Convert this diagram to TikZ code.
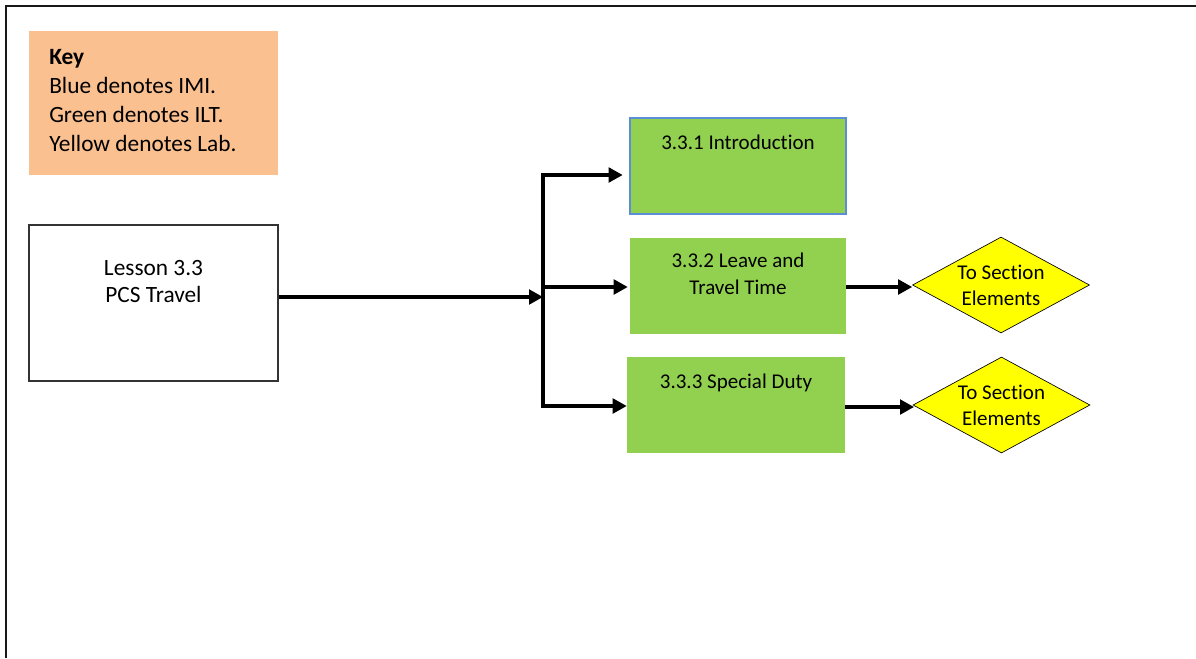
\documentclass[tikz,border=0pt]{standalone}
\usepackage{fontspec}
\setmainfont{Carlito}[Ligatures={NoCommon}]
\usetikzlibrary{arrows.meta,shapes.geometric}
\definecolor{keyfill}{HTML}{FAC090}
\definecolor{ilt}{HTML}{92D050}
\definecolor{lab}{HTML}{FFFF00}
\definecolor{imiedge}{HTML}{5B8ED6}
\tikzset{
  frameline/.style={line width=2pt, black!90},
  keybox/.style={rectangle, fill=keyfill, inner sep=0pt, minimum width=186.75pt, minimum height=108pt},
  lessonbox/.style={rectangle, draw=black!80, line width=0.8pt, fill=white, inner sep=0pt, minimum width=186.75pt, minimum height=117pt},
  iltbox/.style={rectangle, fill=ilt, inner sep=0pt, minimum width=162pt, minimum height=72pt},
  labdiamond/.style={diamond, aspect=1.84, draw=black, line width=0.5pt, fill=lab, inner sep=0pt, minimum width=132.75pt, minimum height=72pt, align=center, font=\fontsize{15.75}{19.3}\selectfont},
  bigtext/.style={inner sep=0pt, font=\fontsize{17.5}{21.75}\selectfont},
  smalltext/.style={inner sep=0pt, font=\fontsize{15.75}{20.25}\selectfont},
  link/.style={line width=2.3pt, black},
  flow/.style={link, -{Triangle[length=10.5pt, width=11pt]}}
}
\begin{document}
\begin{tikzpicture}[x=0.75pt, y=-0.75pt]
\useasboundingbox (0,0) rectangle (1196,658);

% page frame (top and left edges)
\draw[frameline] (6,658) -- (6,6) -- (1196,6);

% key
\node[keybox] (key) at (153.5,103) {};
\node[bigtext, anchor=north west, align=left] (keytext) at (49,49)
  {\textbf{Key}\\Blue denotes IMI.\\Green denotes ILT.\\Yellow denotes Lab.};

% lesson
\node[lessonbox] (lesson) at (153.5,303) {};
\node[bigtext, align=center, font=\fontsize{17.5}{20.25}\selectfont] (lessontext) at (153.5,282) {Lesson 3.3\\PCS Travel};

% topics
\node[iltbox, draw=imiedge, line width=1pt] (intro) at (738,166) {};
\node[smalltext, anchor=base] (introtext) at (738,149) {3.3.1 Introduction};

\node[iltbox] (leave) at (738,286) {};
\node[smalltext, align=center] (leavetext) at (738,274) {3.3.2 Leave and\\Travel Time};

\node[iltbox, minimum width=163.5pt] (special) at (736,405) {};
\node[smalltext, anchor=base] (specialtext) at (736,388) {3.3.3 Special Duty};

% section links
\node[labdiamond] (secA) at (1001,285) {To Section\\Elements};
\node[labdiamond] (secB) at (1001.5,405) {To Section\\Elements};

% branching bus
\coordinate (busin) at (543,297);
\coordinate (bustop) at (543,175);
\coordinate (busmid) at (543,287);
\coordinate (busbot) at (543,406);

\draw[flow] (lesson.east |- busin) -- (busin);
\draw[link, line cap=rect] (bustop) -- (busbot);
\draw[flow, shorten >=5pt] (bustop) -- (intro.west |- bustop);
\draw[flow, shorten >=1.5pt] (busmid) -- (leave.west |- busmid);
\draw[flow] (busbot) -- (special.west |- busbot);

\draw[flow] (leave.east |- 0,287) -- (secA.west |- 0,287);
\draw[flow] (special.east |- 0,407) -- ([xshift=1pt]secB.west |- 0,407);
\end{tikzpicture}
\end{document}
